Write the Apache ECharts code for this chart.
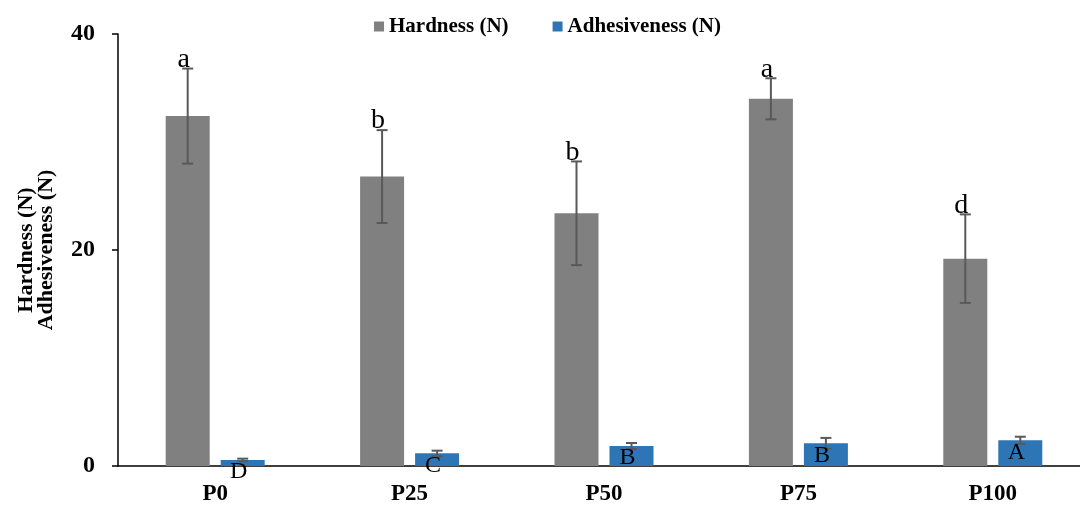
<!DOCTYPE html>
<html>
<head>
<meta charset="utf-8">
<script src="https://cdn.jsdelivr.net/npm/echarts@6/dist/echarts.min.js"></script>
<style>html,body{margin:0;padding:0;background:#fff}#c{width:1080px;height:505px}</style>
</head>
<body>
<div id="c"></div>
<script>
const categories = ['P0', 'P25', 'P50', 'P75', 'P100'];
const hardness = [32.4, 26.8, 23.4, 34.0, 19.2];
const hardnessSD = [4.4, 4.3, 4.8, 1.9, 4.1];
const hardnessLetters = ['a', 'b', 'b', 'a', 'd'];
const adhesiveness = [0.56, 1.17, 1.85, 2.1, 2.38];
const adhesivenessSD = [0.12, 0.25, 0.28, 0.5, 0.33];
const adhesivenessLetters = ['D', 'C', 'B', 'B', 'A'];
const yTicks = [0, 20, 40];

const FONT = "'Liberation Serif','Times New Roman',serif";
const BAR_W = 44, HALF_OFF = 27.5;

function errData(vals, sd) {
  return vals.map((v, i) => [i, v - sd[i], v + sd[i], v]);
}

function makeErr(offset, letters, upper) {
  return function (params, api) {
    const i = api.value(0);
    const lo = api.coord([i, api.value(1)]);
    const hi = api.coord([i, api.value(2)]);
    const top = api.coord([i, api.value(3)]);
    const x = lo[0] + offset;
    const cap = 5.5;
    const st = { stroke: '#595959', lineWidth: 2 };
    const children = [
      { type: 'line', shape: { x1: x, y1: lo[1], x2: x, y2: hi[1] }, style: st },
      { type: 'line', shape: { x1: x - cap, y1: lo[1], x2: x + cap, y2: lo[1] }, style: st },
      { type: 'line', shape: { x1: x - cap, y1: hi[1], x2: x + cap, y2: hi[1] }, style: st }
    ];
    const ty = upper ? hi[1] - 9 : top[1] + 12;
    children.push({
      type: 'text',
      style: {
        text: letters[i], x: x - 4, y: ty,
        align: 'center', verticalAlign: 'middle',
        fill: '#000', font: (upper ? '28px ' : '24px ') + FONT
      },
      z2: 10
    });
    return { type: 'group', children: children };
  };
}

const chart = echarts.init(document.getElementById('c'));
chart.setOption({
  animation: false,
  textStyle: { fontFamily: FONT },
  legend: {
    top: 11, left: 369,
    itemWidth: 10, itemHeight: 10, itemGap: 44,
    icon: 'rect',
    data: ['Hardness (N)', 'Adhesiveness (N)'],
    textStyle: { fontFamily: FONT, fontWeight: 'bold', fontSize: 21, color: '#000' }
  },
  grid: { left: 118, top: 34, right: -10, bottom: 39, containLabel: false, outerBoundsMode: 'none' },
  xAxis: {
    type: 'category', data: categories,
    axisLine: { lineStyle: { color: '#000', width: 1.5 } },
    axisTick: { show: false },
    axisLabel: { margin: 17, color: '#000', fontFamily: FONT, fontWeight: 'bold', fontSize: 23 }
  },
  yAxis: {
    type: 'value', min: yTicks[0], max: yTicks[yTicks.length - 1], interval: 20,
    name: 'Hardness (N)\nAdhesiveness (N)',
    nameLocation: 'middle', nameGap: 62, nameRotate: 90,
    nameTextStyle: { fontFamily: FONT, fontWeight: 'bold', fontSize: 22, color: '#000', lineHeight: 20 },
    axisLine: { show: true, lineStyle: { color: '#000', width: 1.5 } },
    axisTick: { show: true, length: 6, lineStyle: { color: '#000', width: 1.5 } },
    splitLine: { show: false },
    axisLabel: { margin: 23, color: '#000', fontFamily: FONT, fontWeight: 'bold', fontSize: 24 }
  },
  series: [
    { name: 'Hardness (N)', type: 'bar', data: hardness, barWidth: BAR_W, barGap: '25%',
      itemStyle: { color: '#808080' } },
    { name: 'Adhesiveness (N)', type: 'bar', data: adhesiveness, barWidth: BAR_W, barGap: '25%',
      itemStyle: { color: '#2E75B6' } },
    { type: 'custom', data: errData(hardness, hardnessSD), encode: { x: 0, y: [1, 2] },
      renderItem: makeErr(-HALF_OFF, hardnessLetters, true), z: 5, silent: true },
    { type: 'custom', data: errData(adhesiveness, adhesivenessSD), encode: { x: 0, y: [1, 2] },
      renderItem: makeErr(HALF_OFF, adhesivenessLetters, false), z: 5, silent: true }
  ]
});
</script>
</body>
</html>
